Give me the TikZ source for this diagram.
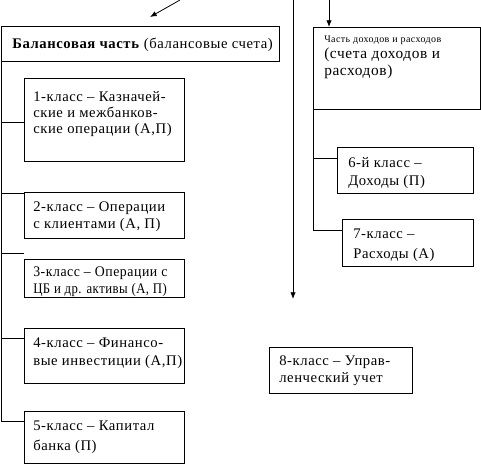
\documentclass[tikz,border=0pt]{standalone}
\usepackage{fontspec}
\usepackage{graphicx}
\setmainfont{Liberation Serif}[LetterSpace=4]
\usetikzlibrary{arrows.meta}
\begin{document}
\begin{tikzpicture}[x=0.75pt,y=-0.75pt,
 box/.style 2 args={draw=black,line width=0.6pt,inner sep=0,anchor=north west,minimum width=#1*0.75pt,minimum height=#2*0.75pt},
 txt/.style={inner sep=0,anchor=base west,align=left,font=\fontsize{11}{#1}\selectfont},
 ln/.style={line width=0.6pt},
 arr/.style={line width=0.6pt,-{Latex[length=5pt,width=4pt]}}]
\useasboundingbox (0,0) rectangle (481,472);
% boxes
\node[box={278}{35}] (bal) at (1,26) {};
\node[box={160}{83}] (b1) at (24,78) {};
\node[box={160}{46}] (b2) at (24,192) {};
\node[box={160}{38}] (b3) at (24,259) {};
\node[box={160}{55}] (b4) at (24,328) {};
\node[box={160}{52}] (b5) at (24,411) {};
\node[box={167}{82}] (pr) at (313,27) {};
\node[box={136}{46}] (b6) at (337,147) {};
\node[box={131}{47}] (b7) at (342,219) {};
\node[box={143}{46}] (b8) at (269,347) {};
% texts (anchored at the baseline of the last line)
\node[txt=13pt] (tbal) at (12,48) {\textbf{Балансовая часть} (балансовые счета)};
\node[txt=12pt] (t1) at (33,133) {1-класс – Казначей-\\ские и межбанков-\\ские операции (А,П)};
\node[txt=12.75pt] (t2) at (33,228) {2-класс – Операции\\с клиентами (А, П)};
\node[txt=12.75pt] (t3) at (33,293) {\scalebox{0.94}[1]{3-класс – Операции с}\\\scalebox{0.87}[1]{ЦБ и др. активы (А, П)}};
\node[txt=13.5pt] (t4) at (33,365) {4-класс – Финансо-\\вые инвестиции (А,П)};
\node[txt=15pt] (t5) at (33,450) {5-класс – Капитал\\банка (П)};
\node[txt=8pt,font=\fontsize{7.5}{8}\selectfont] (tpr) at (324,42) {Часть доходов и расходов};
\node[txt=12.75pt,font=\fontsize{11.5}{12.75}\selectfont] (tpr2) at (324,75) {(счета доходов и\\расходов)};
\node[txt=13.5pt] (t6) at (348,185) {6-й класс –\\Доходы (П)};
\node[txt=15pt] (t7) at (353,258) {7-класс –\\Расходы (А)};
\node[txt=12.75pt] (t8) at (279,382) {8-класс – Управ-\\ленческий учет};
% left trunk
\coordinate (lb1) at (1,122);
\coordinate (lb2) at (1,193);
\coordinate (lb3) at (1,253);
\coordinate (lb4) at (1,338);
\coordinate (lb5) at (1,421);
\draw[ln] (bal.south west) -- (lb5);
\draw[ln] (lb1) -- (lb1 -| b1.west);
\draw[ln] (lb2) -- (lb2 -| b2.west);
\draw[ln] (lb3) -- (lb3 -| b3.west);
\draw[ln] (lb4) -- (lb4 -| b4.west);
\draw[ln] (lb5) -- (lb5 -| b5.west);
% right trunk
\coordinate (rb6) at (313,158);
\coordinate (rb7) at (313,230);
\draw[ln] (pr.south west) -- (rb7);
\draw[ln] (rb6) -- (rb6 -| b6.west);
\draw[ln] (rb7) -- (rb7 -| b7.west);
% arrows
\coordinate (a1s) at (180,0);
\coordinate (a1e) at (150,17);
\draw[arr] (a1s) -- (a1e);
\coordinate (a2s) at (329,0);
\draw[arr] (a2s) -- (a2s |- pr.north);
\coordinate (a3s) at (293,0);
\coordinate (a3e) at (293,299);
\draw[arr] (a3s) -- (a3e);
\end{tikzpicture}
\end{document}
